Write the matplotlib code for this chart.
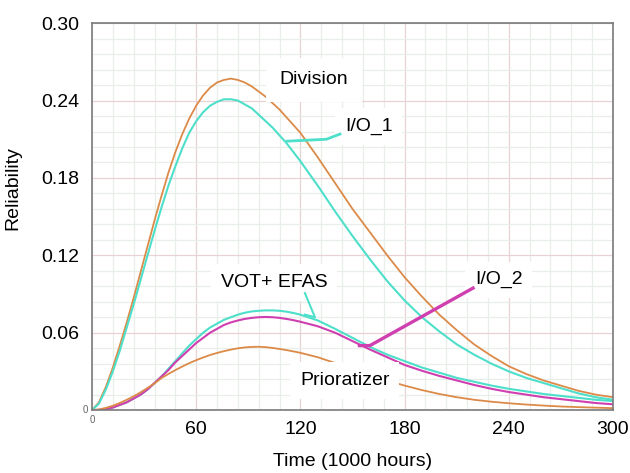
import matplotlib
import matplotlib.pyplot as plt
from matplotlib.ticker import MultipleLocator

matplotlib.use("Agg")
plt.rcParams["font.family"] = ["Liberation Sans", "DejaVu Sans"]

# time axis (1000 hours)
time = [0, 4, 8, 12, 16, 20, 24, 28, 32, 36, 40, 44, 48, 52, 56, 60, 64, 68,
        72, 76, 80, 84, 88, 92, 96, 100, 104, 108, 112, 116, 120,
        130, 140, 150, 160, 170, 180, 190, 200, 210, 220, 230, 240, 250, 260,
        270, 280, 290, 300]

division = [0, 0.006, 0.018, 0.033, 0.050, 0.068, 0.087, 0.107, 0.127, 0.147,
            0.166, 0.184, 0.200, 0.214, 0.226, 0.236, 0.244, 0.250, 0.254,
            0.256, 0.257, 0.256, 0.254, 0.251, 0.247, 0.243, 0.238, 0.233,
            0.227, 0.221, 0.215,
            0.196, 0.176, 0.156, 0.138, 0.120, 0.103, 0.088, 0.074, 0.062,
            0.051, 0.042, 0.034, 0.028, 0.023, 0.019, 0.015, 0.012, 0.010]

io_1 = [0, 0.005, 0.016, 0.030, 0.046, 0.064, 0.082, 0.101, 0.120, 0.139,
        0.157, 0.174, 0.189, 0.203, 0.215, 0.224, 0.231, 0.236, 0.239, 0.241,
        0.241, 0.240, 0.237, 0.234, 0.229, 0.224, 0.219, 0.213, 0.207, 0.200,
        0.193,
        0.174, 0.154, 0.135, 0.117, 0.100, 0.085, 0.072, 0.061, 0.051, 0.043,
        0.036, 0.030, 0.025, 0.021, 0.017, 0.013, 0.010, 0.008]

vot_efas = [0, 0.0001, 0.0007, 0.002, 0.004, 0.006, 0.009, 0.012, 0.016,
            0.021, 0.026, 0.032, 0.038, 0.044, 0.050, 0.055, 0.060, 0.064,
            0.067, 0.070, 0.072, 0.074, 0.0755, 0.0765, 0.077, 0.0773,
            0.0773, 0.077, 0.0763, 0.0753, 0.074,
            0.0695, 0.063, 0.056, 0.049, 0.043, 0.038, 0.033, 0.029, 0.025,
            0.022, 0.019, 0.0165, 0.0145, 0.0125, 0.011, 0.0095, 0.008, 0.007]

io_2 = [0, 0.0001, 0.0007, 0.002, 0.004, 0.006, 0.009, 0.012, 0.016, 0.021,
        0.026, 0.031, 0.037, 0.042, 0.047, 0.052, 0.056, 0.060, 0.063, 0.066,
        0.068, 0.0695, 0.0707, 0.0715, 0.072, 0.0722, 0.072, 0.0715, 0.0707,
        0.0697, 0.0685,
        0.065, 0.060, 0.0535, 0.047, 0.041, 0.035, 0.0305, 0.0265, 0.023,
        0.0195, 0.0165, 0.014, 0.012, 0.010, 0.0085, 0.007, 0.0055, 0.0045]

prioratizer = [0, 0.0005, 0.0017, 0.0034, 0.0055, 0.008, 0.0107, 0.0138,
               0.0172, 0.0207, 0.0248, 0.028, 0.031, 0.0338, 0.0364, 0.0387,
               0.0408, 0.0427, 0.0443, 0.0457, 0.0469, 0.0479, 0.0486, 0.049,
               0.0491, 0.0488, 0.0482, 0.0474, 0.0465, 0.0455, 0.0444,
               0.041, 0.0365, 0.032, 0.0275, 0.023, 0.019, 0.0155, 0.0125,
               0.010, 0.008, 0.0065, 0.0053, 0.0043, 0.0035, 0.0028, 0.0023,
               0.0019, 0.0015]

orange = "#dc8a48"
cyan = "#4edfca"
magenta = "#cf3fb0"

fig = plt.figure(figsize=(6.3, 4.73), dpi=100)
ax = fig.add_axes([0.146, 0.133, 0.827, 0.818])

ax.plot(time, division, color=orange, lw=1.3, zorder=2)
ax.plot(time, io_1, color=cyan, lw=1.5, zorder=2)
ax.plot(time, vot_efas, color=cyan, lw=1.5, zorder=2)
ax.plot(time, io_2, color=magenta, lw=1.5, zorder=2)
ax.plot(time, prioratizer, color=orange, lw=1.3, zorder=2)

# curve labels with white boxes
box = dict(facecolor="white", edgecolor="none", pad=7)
ax.text(108, 0.256, "Division", fontsize=14, va="center",
        bbox=dict(facecolor="white", edgecolor="none", pad=10), zorder=3)
ax.text(145.7, 0.220, "I/O_1", fontsize=14, va="center", bbox=box, zorder=3)
ax.text(74.3, 0.099, "VOT+ EFAS", fontsize=14, va="center", bbox=box, zorder=3)
ax.text(220.5, 0.101, "I/O_2", fontsize=14, va="center", bbox=box, zorder=3)
ax.text(119.8, 0.023, "Prioratizer", fontsize=14, va="center", bbox=box, zorder=3)

# leader lines
ax.plot([112.3, 135, 142.8], [0.2085, 0.210, 0.214], color=cyan, lw=2, zorder=4)
ax.plot([122.6, 128.4, 122.6], [0.0907, 0.072, 0.074], color=cyan, lw=1.5, zorder=4)
ax.plot([219.4, 160, 154], [0.0946, 0.050, 0.050], color=magenta, lw=2.4, zorder=4)

ax.set_xlim(0, 300)
ax.set_ylim(0, 0.30)
ax.set_xticks([60, 120, 180, 240, 300])
ax.set_yticks([0.06, 0.12, 0.18, 0.24, 0.30])
ax.set_yticklabels(["0.06", "0.12", "0.18", "0.24", "0.30"])
ax.xaxis.set_minor_locator(MultipleLocator(12))
ax.yaxis.set_minor_locator(MultipleLocator(0.012))
ax.tick_params(which="both", length=0, labelsize=14)
ax.tick_params(axis="y", pad=9)
ax.tick_params(axis="x", pad=8)

ax.grid(True, which="major", color="#e8d2d5", lw=0.9, zorder=0)
ax.grid(True, which="minor", color="#e8efe9", lw=0.9, zorder=0)
ax.set_axisbelow(True)
for s in ax.spines.values():
    s.set_color("#7a7a7a")
    s.set_linewidth(1.2)

# small zeros at the origin
ax.annotate("0", xy=(0, 0), xycoords="axes fraction", xytext=(0, -7),
            textcoords="offset points", fontsize=7, color="#666666",
            ha="center", va="center")
ax.annotate("0", xy=(0, 0), xycoords="axes fraction", xytext=(-5, 0),
            textcoords="offset points", fontsize=7, color="#666666",
            ha="center", va="center")

ax.set_xlabel("Time (1000 hours)", fontsize=14, labelpad=11)
ax.set_ylabel("Reliability", fontsize=14)
ax.yaxis.set_label_coords(-0.136, 0.574)

fig.savefig("out.png", dpi=100)
